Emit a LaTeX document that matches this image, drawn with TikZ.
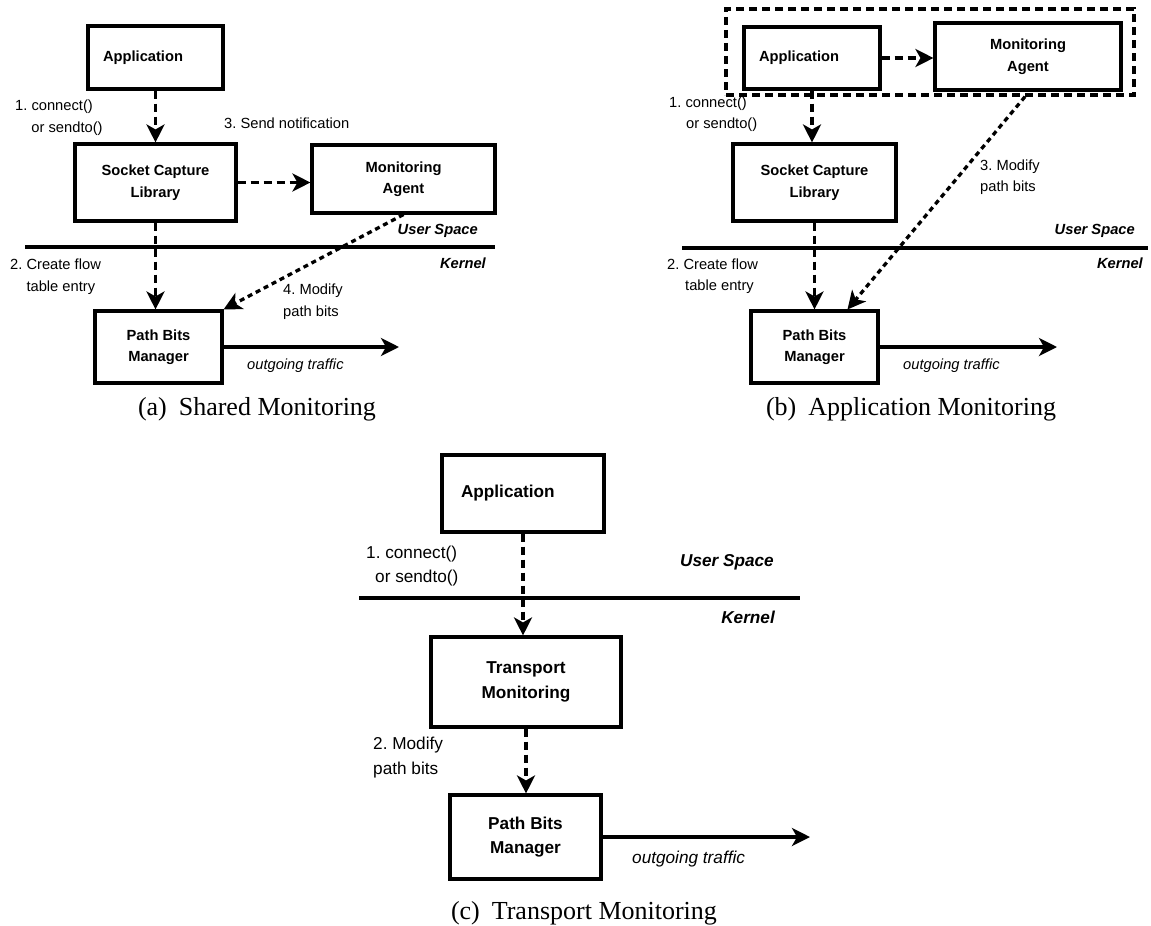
\documentclass[tikz,border=0pt]{standalone}
\usepackage{fontspec}
\setmainfont{Liberation Sans}
\newfontfamily\capfont{Liberation Serif}
\usetikzlibrary{arrows.meta}
\frenchspacing
\newcommand{\fa}{\fontsize{14.7pt}{21.5pt}\selectfont}
\newcommand{\fc}{\fontsize{17.2pt}{24.5pt}\selectfont}

\begin{document}
\begin{tikzpicture}[x=1pt,y=-1pt,
  box/.style={draw, line width=3.1pt, inner sep=0pt, align=center, font=\fa\bfseries},
  boxc/.style={box, font=\fc\bfseries},
  lbl/.style={inner sep=0pt, anchor=west, align=left, font=\fa},
  lblc/.style={lbl, font=\fc},
  zone/.style={inner sep=0pt, anchor=east, font=\fa\bfseries\itshape},
  zonec/.style={zone, font=\fc\bfseries\itshape},
  traffic/.style={inner sep=0pt, anchor=west, font=\fa\itshape},
  trafficc/.style={traffic, font=\fc\itshape},
  tip/.style={-{Stealth[length=18pt,width=18pt,inset=5pt]}},
  call/.style={tip, line width=3.3pt, dash pattern=on 8pt off 5pt},
  modify/.style={tip, line width=3.3pt, dash pattern=on 5pt off 4pt},
  boundary/.style={line width=3.3pt},
  outflow/.style={tip, line width=3.3pt},
  subcap/.style={inner sep=0pt, font=\capfont\fontsize{26pt}{30pt}\selectfont},
  group/.style={draw, line width=3.3pt, dash pattern=on 8pt off 5pt, inner sep=0pt}
]
\useasboundingbox (0,0) rectangle (1151,926);

% ---------------- (a) Shared Monitoring ----------------
\node[box, minimum height=63pt, text width=105pt, inner xsep=15pt, align=left] (appA) at (155.5,57.5) {Application};
\node[box, minimum width=161pt, minimum height=77pt] (sockA) at (155.5,182.5) {Socket Capture\\Library};
\node[box, minimum width=183pt, minimum height=68pt] (monA) at (403.5,179) {Monitoring\\Agent};
\node[box, minimum width=127pt, minimum height=72pt] (pbmA) at (158.5,347) {Path Bits\\Manager};

\coordinate (kA1) at (25,247);
\coordinate (kA2) at (495,247);
\draw[boundary] (kA1) -- (kA2);
\node[zone] (usA) at (478,231) {User Space};
\node[zone] (knA) at (486,263) {Kernel};

\draw[call] (appA.south) -- (appA.south |- sockA.north);
\draw[call] (sockA.east) -- (sockA.east -| monA.west);
\draw[call] (sockA.south) -- (sockA.south |- pbmA.north);
\draw[modify] (monA.south) -- (pbmA.north east);
\coordinate (outA) at (399,347);
\draw[outflow] (pbmA.east) -- (outA);

\node[lbl] (l1A) at (15,117.5) {1. connect()\\\hspace*{16.3pt}or sendto()};
\node[lbl] (l3A) at (224,123) {3. Send notification};
\node[lbl] (l2A) at (10,276.5) {2. Create flow\\\hspace*{16.3pt}table entry};
\node[lbl] (l4A) at (283,301.5) {4. Modify\\path bits};
\node[traffic] (otA) at (247,366) {outgoing traffic};
\node[subcap] (capA) at (257,409) {(a)\hspace{0.46em}Shared Monitoring};

% ---------------- (b) Application Monitoring ----------------
\node[group, minimum width=408pt, minimum height=86pt] (grpB) at (930,52) {};
\node[box, minimum height=62pt, text width=106pt, inner xsep=15pt, align=left] (appB) at (812,58) {Application};
\node[box, minimum width=186pt, minimum height=67pt] (monB) at (1028,56.5) {Monitoring\\Agent};
\node[box, minimum width=163pt, minimum height=77pt] (sockB) at (814.5,182.5) {Socket Capture\\Library};
\node[box, minimum width=127pt, minimum height=72pt] (pbmB) at (814.5,347) {Path Bits\\Manager};

\coordinate (kB1) at (682,248);
\coordinate (kB2) at (1148,248);
\draw[boundary] (kB1) -- (kB2);
\node[zone] (usB) at (1135,231) {User Space};
\node[zone] (knB) at (1143,263) {Kernel};

\draw[call] (appB.east) -- (appB.east -| monB.west);
\draw[call] (appB.south) -- (appB.south |- sockB.north);
\draw[call] (sockB.south) -- (sockB.south |- pbmB.north);
\draw[modify] ([xshift=95pt]grpB.south) -- ([xshift=33pt]pbmB.north);
\coordinate (outB) at (1057,347);
\draw[outflow] (pbmB.east) -- (outB);

\node[lbl] (l1B) at (669,114) {1. connect()\\\hspace*{17pt}or sendto()};
\node[lbl] (l2B) at (667,276) {2. Create flow\\\hspace*{18pt}table entry};
\node[lbl] (l3B) at (980,177) {3. Modify\\path bits};
\node[traffic] (otB) at (903,366) {outgoing traffic};
\node[subcap] (capB) at (911,409) {(b)\hspace{0.46em}Application Monitoring};

% ---------------- (c) Transport Monitoring ----------------
\node[boxc, minimum height=77pt, text width=124pt, inner xsep=19pt, align=left] (appC) at (523,493.5) {Application};
\node[boxc, minimum width=190pt, minimum height=90pt] (trC) at (526,682) {Transport\\Monitoring};
\node[boxc, minimum width=151pt, minimum height=84pt] (pbmC) at (525.5,837) {Path Bits\\Manager};

\coordinate (kC1) at (359,598);
\coordinate (kC2) at (800,598);
\draw[boundary] (kC1) -- (kC2);
\node[zonec] (usC) at (774,562) {User Space};
\node[zonec] (knC) at (775,617) {Kernel};

\draw[call] (appC.south) -- (appC.south |- trC.north);
\draw[call] (trC.south) -- (trC.south |- pbmC.north);
\coordinate (outC) at (810,837);
\draw[outflow] (pbmC.east) -- (outC);

\node[lblc] (l1C) at (366,566) {1. connect()\\\hspace*{9pt}or sendto()};
\node[lblc] (l2C) at (373,757.5) {2. Modify\\path bits};
\node[trafficc] (otC) at (632,859) {outgoing traffic};
\node[subcap] (capC) at (584,913) {(c)\hspace{0.46em}Transport Monitoring};
\end{tikzpicture}
\end{document}
